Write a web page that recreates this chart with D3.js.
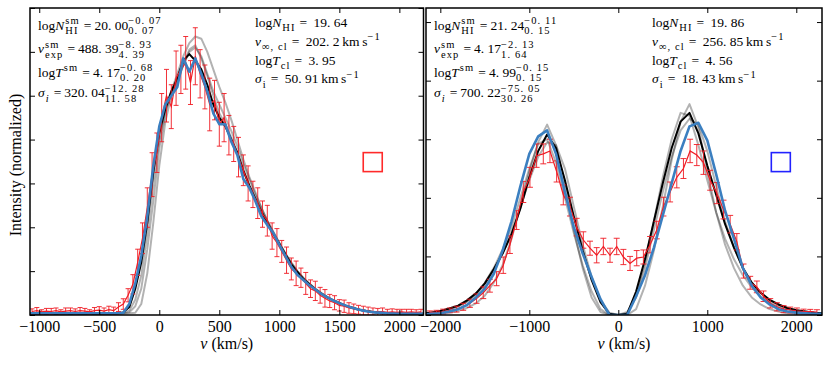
<!DOCTYPE html>
<html>
<head>
<meta charset="utf-8">
<script src="https://cdn.jsdelivr.net/npm/d3@7"></script>
<style>
  body { margin: 0; background: #fff; }
  svg text { white-space: pre; }
</style>
</head>
<body>
<script>
// ---- data: left panel (outflow profile) ----
const leftVel = [
  -1060, -1020, -980, -940, -900, -860, -820, -780, -740, -700,
  -660, -620, -580, -540, -500, -460, -420, -380, -340, -300,
  -260, -220, -180, -140, -100, -60, -20, 20, 60, 100,
  140, 180, 220, 260, 300, 340, 380, 420, 460, 500,
  540, 580, 620, 660, 700, 740, 780, 820, 860, 900,
  940, 980, 1020, 1060, 1100, 1140, 1180, 1220, 1260, 1300,
  1340, 1380, 1420, 1460, 1500, 1540, 1580, 1620, 1660, 1700,
  1740, 1780, 1820, 1860, 1900, 1940, 1980, 2020, 2060, 2100,
  2140, 2180];
const leftRed = [
  0.08, 0.10, 0.07, 0.09, 0.08, 0.10, 0.07, 0.09, 0.10, 0.08,
  0.10, 0.09, 0.07, 0.10, 0.11, 0.09, 0.12, 0.10, 0.18, 0.25,
  0.45, 0.70, 1.20, 1.75, 2.45, 3.20, 3.70, 4.50, 5.00, 4.75,
  5.40, 5.60, 5.75, 5.30, 5.90, 5.50, 5.20, 4.80, 4.90, 4.35,
  4.50, 4.10, 3.90, 3.60, 3.30, 3.00, 2.75, 2.55, 2.30, 2.15,
  1.80, 1.65, 1.45, 1.25, 1.05, 0.95, 0.85, 0.72, 0.60, 0.55,
  0.45, 0.38, 0.32, 0.28, 0.22, 0.20, 0.16, 0.14, 0.12, 0.10,
  0.09, 0.08, 0.07, 0.08, 0.06, 0.07, 0.06, 0.07, 0.06, 0.07,
  0.06, 0.07];
const leftErr = [
  0.06, 0.07, 0.05, 0.06, 0.07, 0.06, 0.05, 0.07, 0.06, 0.06,
  0.07, 0.06, 0.05, 0.07, 0.08, 0.07, 0.08, 0.08, 0.10, 0.12,
  0.15, 0.22, 0.30, 0.35, 0.45, 0.50, 0.45, 0.55, 0.60, 0.50,
  0.62, 0.55, 0.60, 0.50, 0.65, 0.55, 0.50, 0.60, 0.45, 0.50,
  0.55, 0.45, 0.40, 0.45, 0.35, 0.40, 0.30, 0.35, 0.30, 0.35,
  0.30, 0.32, 0.25, 0.30, 0.25, 0.28, 0.22, 0.25, 0.20, 0.22,
  0.18, 0.20, 0.15, 0.16, 0.13, 0.14, 0.12, 0.11, 0.10, 0.10,
  0.09, 0.08, 0.08, 0.08, 0.07, 0.07, 0.07, 0.06, 0.07, 0.06,
  0.06, 0.06];

const leftModelVel = [
  -1100, -500, -400, -350, -300, -250, -200, -150, -100, -50,
  0, 50, 100, 150, 200, 250, 300, 350, 400, 450,
  500, 550, 600, 650, 700, 750, 800, 850, 900, 950,
  1000, 1050, 1100, 1150, 1200, 1250, 1300, 1350, 1400, 1450,
  1500, 1550, 1600, 1650, 1700, 1750, 1800, 1900, 2000, 2200];
const leftBlue = [
  0.04, 0.04, 0.04, 0.04, 0.05, 0.25, 0.72, 1.35, 2.25, 3.40,
  4.30, 4.80, 5.00, 5.20, 5.85, 5.55, 5.85, 5.50, 5.10, 4.60,
  4.35, 4.35, 3.95, 3.65, 3.10, 2.90, 2.60, 2.25, 2.05, 1.87,
  1.60, 1.35, 1.10, 0.92, 0.80, 0.68, 0.58, 0.48, 0.40, 0.33,
  0.27, 0.22, 0.17, 0.13, 0.10, 0.075, 0.06, 0.04, 0.03, 0.03];
const leftBlack = [
  0.03, 0.03, 0.04, 0.04, 0.06, 0.18, 0.60, 1.20, 2.10, 3.25,
  4.15, 4.70, 5.10, 5.40, 5.80, 5.95, 5.80, 5.60, 5.25, 4.80,
  4.50, 4.30, 4.00, 3.70, 3.30, 2.95, 2.65, 2.35, 2.10, 1.85,
  1.62, 1.38, 1.15, 0.98, 0.82, 0.70, 0.58, 0.48, 0.40, 0.33,
  0.27, 0.21, 0.17, 0.13, 0.10, 0.08, 0.06, 0.04, 0.03, 0.03];
const leftGrayA = [
  0.02, 0.02, 0.02, 0.03, 0.04, 0.06, 0.20, 0.60, 1.50, 2.60,
  3.80, 4.60, 5.10, 5.50, 5.90, 6.20, 6.35, 6.30, 6.00, 5.60,
  5.20, 4.85, 4.45, 4.00, 3.55, 3.15, 2.80, 2.45, 2.15, 1.90,
  1.65, 1.40, 1.20, 1.00, 0.85, 0.72, 0.60, 0.50, 0.41, 0.34,
  0.28, 0.22, 0.17, 0.13, 0.10, 0.08, 0.06, 0.04, 0.03, 0.02];
const leftGrayB = [
  0.02, 0.02, 0.02, 0.02, 0.03, 0.04, 0.05, 0.25, 0.95, 2.10,
  3.40, 4.40, 5.00, 5.30, 5.70, 6.00, 6.10, 5.90, 5.50, 5.10,
  4.80, 4.50, 4.20, 3.85, 3.45, 3.10, 2.75, 2.45, 2.15, 1.88,
  1.64, 1.40, 1.18, 1.00, 0.84, 0.71, 0.60, 0.50, 0.41, 0.33,
  0.27, 0.21, 0.17, 0.13, 0.10, 0.08, 0.06, 0.04, 0.03, 0.02];
const leftGrayC = [
  0.03, 0.03, 0.03, 0.04, 0.05, 0.10, 0.35, 0.90, 1.85, 3.00,
  4.00, 4.65, 5.05, 5.35, 5.70, 6.05, 6.15, 5.85, 5.45, 5.00,
  4.60, 4.35, 4.05, 3.70, 3.30, 2.95, 2.65, 2.38, 2.12, 1.86,
  1.63, 1.40, 1.17, 0.99, 0.83, 0.70, 0.59, 0.49, 0.40, 0.33,
  0.27, 0.21, 0.17, 0.13, 0.10, 0.08, 0.06, 0.04, 0.03, 0.03];

// ---- data: right panel (double-peaked profile) ----
const rightVel = [
  -2118, -2043, -1968, -1893, -1818, -1743, -1668, -1593, -1518, -1443,
  -1368, -1293, -1218, -1143, -1068, -993, -918, -843, -768, -693,
  -618, -543, -468, -393, -318, -243, -168, -93, -18, 57,
  132, 207, 282, 357, 432, 507, 582, 657, 732, 807,
  882, 957, 1032, 1107, 1182, 1257, 1332, 1407, 1482, 1557,
  1632, 1707, 1782, 1857, 1932, 2007, 2082, 2157, 2232];
const rightRed = [
  0.04, 0.05, 0.06, 0.08, 0.10, 0.14, 0.20, 0.28, 0.38, 0.50,
  0.62, 0.85, 1.20, 1.62, 2.10, 2.35, 2.72, 2.75, 2.80, 2.45,
  2.05, 1.85, 1.50, 1.28, 1.14, 1.02, 1.17, 1.02, 1.17, 0.99,
  0.88, 0.97, 0.99, 1.20, 1.45, 1.85, 2.10, 2.35, 2.50, 2.80,
  2.73, 2.60, 2.30, 2.08, 1.80, 1.55, 1.25, 0.75, 0.55, 0.48,
  0.32, 0.20, 0.14, 0.10, 0.085, 0.07, 0.06, 0.056, 0.05];
const rightErr = [
  0.03, 0.03, 0.04, 0.04, 0.05, 0.06, 0.07, 0.08, 0.10, 0.11,
  0.12, 0.14, 0.15, 0.16, 0.18, 0.17, 0.20, 0.17, 0.20, 0.18,
  0.17, 0.16, 0.15, 0.14, 0.12, 0.13, 0.14, 0.12, 0.14, 0.13,
  0.12, 0.13, 0.12, 0.14, 0.15, 0.16, 0.17, 0.18, 0.17, 0.20,
  0.18, 0.20, 0.17, 0.18, 0.16, 0.15, 0.14, 0.12, 0.11, 0.10,
  0.09, 0.08, 0.07, 0.06, 0.05, 0.05, 0.04, 0.04, 0.04];

const rightModelVel = [
  -2200, -2100, -2000, -1900, -1800, -1700, -1600, -1500, -1400, -1300,
  -1200, -1100, -1000, -900, -800, -700, -600, -500, -400, -300,
  -200, -100, 0, 100, 200, 300, 400, 500, 600, 700,
  800, 900, 1000, 1100, 1200, 1300, 1400, 1500, 1600, 1700,
  1800, 1900, 2000, 2100, 2200, 2300];
const rightBlue = [
  0.01, 0.02, 0.03, 0.06, 0.10, 0.17, 0.30, 0.45, 0.70, 1.10,
  1.60, 2.20, 2.75, 3.05, 3.15, 2.75, 2.10, 1.50, 1.05, 0.65,
  0.27, 0.00, 0.00, 0.00, 0.32, 0.68, 1.15, 1.70, 2.25, 2.80,
  3.22, 3.28, 2.98, 2.40, 1.78, 1.30, 0.80, 0.50, 0.30, 0.18,
  0.10, 0.06, 0.04, 0.03, 0.02, 0.02];
const rightBlack = [
  0.03, 0.04, 0.07, 0.11, 0.16, 0.25, 0.37, 0.54, 0.78, 1.05,
  1.38, 1.82, 2.35, 2.80, 3.08, 2.85, 2.30, 1.68, 1.10, 0.60,
  0.22, 0.02, 0.00, 0.02, 0.40, 0.95, 1.60, 2.25, 2.85, 3.30,
  3.45, 3.10, 2.55, 2.05, 1.55, 1.15, 0.80, 0.55, 0.38, 0.26,
  0.18, 0.12, 0.08, 0.06, 0.04, 0.03];
const rightGrayA = [
  0.00, 0.01, 0.02, 0.04, 0.07, 0.12, 0.20, 0.33, 0.55, 0.85,
  1.30, 1.85, 2.45, 2.95, 3.25, 2.90, 2.20, 1.45, 0.80, 0.30,
  0.05, 0.00, 0.00, 0.00, 0.10, 0.50, 1.10, 1.85, 2.65, 3.30,
  3.60, 3.20, 2.45, 1.75, 1.20, 0.80, 0.50, 0.30, 0.18, 0.10,
  0.06, 0.03, 0.02, 0.01, 0.00, 0.00];
const rightGrayB = [
  0.03, 0.05, 0.07, 0.10, 0.15, 0.23, 0.35, 0.51, 0.75, 1.05,
  1.40, 1.85, 2.30, 2.70, 2.95, 2.90, 2.50, 1.85, 1.20, 0.65,
  0.25, 0.04, 0.00, 0.05, 0.30, 0.80, 1.45, 2.10, 2.70, 3.15,
  3.35, 3.25, 2.80, 2.20, 1.60, 1.15, 0.80, 0.55, 0.38, 0.26,
  0.18, 0.12, 0.08, 0.06, 0.04, 0.03];
const rightGrayC = [
  0.02, 0.04, 0.06, 0.10, 0.15, 0.23, 0.36, 0.55, 0.80, 1.12,
  1.50, 2.00, 2.50, 2.92, 3.00, 2.60, 2.00, 1.40, 0.85, 0.40,
  0.10, 0.00, 0.00, 0.03, 0.35, 0.90, 1.60, 2.35, 3.00, 3.45,
  3.40, 2.90, 2.30, 1.75, 1.30, 0.95, 0.68, 0.47, 0.32, 0.22,
  0.15, 0.10, 0.07, 0.05, 0.03, 0.02];

// ---- ticks ----
const leftXTicks = [-1000, -500, 0, 500, 1000, 1500, 2000];
const rightXTicks = [-2000, -1000, 0, 1000, 2000];
const leftYTicks = [0, 1, 2, 3, 4, 5, 6, 7];
const rightYTicks = [0, 1, 2, 3, 4, 5];

// ---- annotation text (tokens: r roman, i italic, op operator, sup/sub stacked scripts) ----
const leftFitText = [
  [{r: 'log'}, {i: 'N'}, {sup: 'sm', sub: 'HI'}, {op: '='}, {r: '20. 00'}, {sup: '−0. 07', sub: '0. 07'}],
  [{i: 'v'}, {sup: 'sm', sub: 'exp'}, {op: '='}, {r: '488. 39'}, {sup: '−8. 93', sub: '4. 39'}],
  [{r: 'log'}, {i: 'T'}, {sup: 'sm'}, {op: '='}, {r: '4. 17'}, {sup: '−0. 68', sub: '0. 20'}],
  [{i: 'σ'}, {sub: 'i', si: true}, {op: '='}, {r: '320. 04'}, {sup: '−12. 28', sub: '11. 58'}]
];
const leftTrueText = [
  [{r: 'log'}, {i: 'N'}, {sub: 'HI'}, {op: '='}, {r: ' 19. 64'}],
  [{i: 'v'}, {sub: '∞, cl'}, {op: '='}, {r: ' 202. 2\u2009km\u2009s'}, {sup: '−1'}],
  [{r: 'log'}, {i: 'T'}, {sub: 'cl'}, {op: '='}, {r: ' 3. 95'}],
  [{i: 'σ'}, {sub: 'i'}, {op: '='}, {r: ' 50. 91\u2009km\u2009s'}, {sup: '−1'}]
];
const rightFitText = [
  [{r: 'log'}, {i: 'N'}, {sup: 'sm', sub: 'HI'}, {op: '='}, {r: '21. 24'}, {sup: '−0. 11', sub: '0. 15'}],
  [{i: 'v'}, {sup: 'sm', sub: 'exp'}, {op: '='}, {r: '4. 17'}, {sup: '−2. 13', sub: '1. 64'}],
  [{r: 'log'}, {i: 'T'}, {sup: 'sm'}, {op: '='}, {r: '4. 99'}, {sup: '−0. 15', sub: '0. 15'}],
  [{i: 'σ'}, {sub: 'i', si: true}, {op: '='}, {r: '700. 22'}, {sup: '−75. 05', sub: '30. 26'}]
];
const rightTrueText = [
  [{r: 'log'}, {i: 'N'}, {sub: 'HI'}, {op: '='}, {r: ' 19. 86'}],
  [{i: 'v'}, {sub: '∞, cl'}, {op: '='}, {r: ' 256. 85\u2009km\u2009s'}, {sup: '−1'}],
  [{r: 'log'}, {i: 'T'}, {sub: 'cl'}, {op: '='}, {r: ' 4. 56'}],
  [{i: 'σ'}, {sub: 'i'}, {op: '='}, {r: ' 18. 43\u2009km\u2009s'}, {sup: '−1'}]
];

const FONT = "'Liberation Serif', 'DejaVu Serif', serif";
const BASE = 13.5;
const SCRIPT = 10.5;

const svg = d3.select('body').append('svg')
    .attr('width', 831)
    .attr('height', 365)
    .attr('font-family', FONT);

svg.append('rect').attr('width', 831).attr('height', 365).attr('fill', '#fff');

function put(g, x, y, s, size, italic, script) {
    const t = g.append('text')
        .attr('x', x)
        .attr('y', y)
        .attr('font-family', FONT)
        .attr('font-size', size)
        .attr('font-style', italic ? 'italic' : null)
        .attr('letter-spacing', script ? 1.1 : null)
        .text(s);
    return t.node().getComputedTextLength();
}

function mathLine(g, x, y, tokens) {
    let cx = x;
    tokens.forEach(tk => {
        if (tk.sup !== undefined || tk.sub !== undefined) {
            let w = 0;
            if (tk.sup) w = Math.max(w, put(g, cx, y - 5.5, tk.sup, SCRIPT, false, true));
            if (tk.sub) w = Math.max(w, put(g, cx, y + 4.5, tk.sub, SCRIPT, tk.si, true));
            cx += w + 1;
        } else if (tk.op) {
            cx += 3;
            cx += put(g, cx, y, tk.op, BASE);
            cx += 3;
        } else if (tk.i) {
            cx += put(g, cx, y, tk.i, BASE, true) + 1;
        } else {
            cx += put(g, cx, y, tk.r, BASE);
        }
    });
}

function drawPanel(p) {
    const top = 8, bottom = 315;
    const x = d3.scaleLinear().domain(p.xDomain).range([p.x0, p.x1]);
    const y = d3.scaleLinear().domain([0, p.yMax]).range([bottom, top]);
    const g = svg.append('g');

    svg.append('clipPath').attr('id', p.id)
        .append('rect')
        .attr('x', p.x0).attr('y', top)
        .attr('width', p.x1 - p.x0).attr('height', bottom - top);

    const plot = g.append('g').attr('clip-path', `url(#${p.id})`);
    const line = d3.line().x(d => x(d[0])).y(d => y(d[1]));

    p.grays.forEach(arr => {
        plot.append('path')
            .datum(d3.zip(p.modelVel, arr))
            .attr('d', line)
            .attr('fill', 'none')
            .attr('stroke', '#000')
            .attr('stroke-opacity', 0.3)
            .attr('stroke-width', 2)
            .attr('stroke-linejoin', 'round');
    });

    plot.append('path')
        .datum(d3.zip(p.modelVel, p.black))
        .attr('d', line)
        .attr('fill', 'none')
        .attr('stroke', '#000')
        .attr('stroke-width', 2)
        .attr('stroke-linejoin', 'round');

    // red data with error bars
    const pts = d3.zip(p.vel, p.red, p.err);
    const eb = plot.append('g')
        .attr('stroke', '#f01c24')
        .attr('stroke-width', 1)
        .attr('stroke-opacity', 0.9);
    eb.selectAll('line.bar')
        .data(pts)
        .enter().append('line')
        .attr('class', 'bar')
        .attr('x1', d => x(d[0])).attr('x2', d => x(d[0]))
        .attr('y1', d => y(d[1] - d[2])).attr('y2', d => y(d[1] + d[2]));
    eb.selectAll('line.capt')
        .data(pts)
        .enter().append('line')
        .attr('class', 'capt')
        .attr('x1', d => x(d[0]) - p.cap).attr('x2', d => x(d[0]) + p.cap)
        .attr('y1', d => y(d[1] + d[2])).attr('y2', d => y(d[1] + d[2]));
    eb.selectAll('line.capb')
        .data(pts)
        .enter().append('line')
        .attr('class', 'capb')
        .attr('x1', d => x(d[0]) - p.cap).attr('x2', d => x(d[0]) + p.cap)
        .attr('y1', d => y(d[1] - d[2])).attr('y2', d => y(d[1] - d[2]));
    plot.append('path')
        .datum(d3.zip(p.vel, p.red))
        .attr('d', line)
        .attr('fill', 'none')
        .attr('stroke', '#f01c24')
        .attr('stroke-width', 1.2);

    plot.append('path')
        .datum(d3.zip(p.modelVel, p.blue))
        .attr('d', line)
        .attr('fill', 'none')
        .attr('stroke', '#3b7fc0')
        .attr('stroke-width', 2.6)
        .attr('stroke-linejoin', 'round');

    // axes
    const tickStyle = sel => {
        sel.select('.domain').remove();
        sel.selectAll('.tick line').attr('stroke', '#000').attr('stroke-width', 1);
    };
    g.append('g')
        .attr('transform', `translate(0,${bottom})`)
        .call(d3.axisBottom(x).tickValues(p.xTicks).tickSize(-5).tickPadding(6).tickFormat(d3.format('d')))
        .call(tickStyle)
        .call(a => a.attr('font-family', FONT).attr('font-size', 16))
        .call(a => a.selectAll('.tick text').attr('fill', '#000'));
    g.append('g')
        .attr('transform', `translate(0,${top})`)
        .call(d3.axisTop(x).tickValues(p.xTicks).tickSize(-5).tickFormat(''))
        .call(tickStyle);
    g.append('g')
        .attr('transform', `translate(${p.x0},0)`)
        .call(d3.axisLeft(y).tickValues(p.yTicks).tickSize(-5).tickFormat(''))
        .call(tickStyle);
    g.append('g')
        .attr('transform', `translate(${p.x1},0)`)
        .call(d3.axisRight(y).tickValues(p.yTicks).tickSize(-5).tickFormat(''))
        .call(tickStyle);

    g.append('rect')
        .attr('x', p.x0).attr('y', top)
        .attr('width', p.x1 - p.x0).attr('height', bottom - top)
        .attr('fill', 'none')
        .attr('stroke', '#000')
        .attr('stroke-width', 1.5);

    // marker square
    const sx = p.x0 + p.sqFrac[0] * (p.x1 - p.x0);
    const sy = bottom - p.sqFrac[1] * (bottom - top);
    g.append('rect')
        .attr('x', sx - 9.5).attr('y', sy - 9.5)
        .attr('width', 19).attr('height', 19)
        .attr('fill', 'none')
        .attr('stroke', p.sqColor)
        .attr('stroke-width', 1.6);

    // annotations
    const txt = g.append('g').attr('fill', '#000');
    [29.5, 53, 76.5, 97].forEach((yy, i) => mathLine(txt, p.x0 + 8, yy, p.fitText[i]));
    [26.5, 45.5, 64.5, 83].forEach((yy, i) => mathLine(txt, p.x0 + p.trueOffset, yy, p.trueText[i]));

    // x label
    const xl = g.append('text')
        .attr('x', (p.x0 + p.x1) / 2)
        .attr('y', 349)
        .attr('text-anchor', 'middle')
        .attr('font-family', FONT)
        .attr('font-size', 16);
    xl.append('tspan').attr('font-style', 'italic').text('v');
    xl.append('tspan').text(' (km/s)');
}

drawPanel({
    id: 'clipL', x0: 30, x1: 423.5, xDomain: [-1077, 2201], yMax: 7,
    xTicks: leftXTicks, yTicks: leftYTicks,
    vel: leftVel, red: leftRed, err: leftErr,
    modelVel: leftModelVel, blue: leftBlue, black: leftBlack,
    grays: [leftGrayA, leftGrayB, leftGrayC],
    cap: 2.5, sqFrac: [0.871, 0.498], sqColor: '#ff2a2a',
    fitText: leftFitText, trueText: leftTrueText, trueOffset: 225
});

drawPanel({
    id: 'clipR', x0: 426, x1: 822, xDomain: [-2161, 2289], yMax: 5.24,
    xTicks: rightXTicks, yTicks: rightYTicks,
    vel: rightVel, red: rightRed, err: rightErr,
    modelVel: rightModelVel, blue: rightBlue, black: rightBlack,
    grays: [rightGrayA, rightGrayB, rightGrayC],
    cap: 3, sqFrac: [0.896, 0.498], sqColor: '#2222ff',
    fitText: rightFitText, trueText: rightTrueText, trueOffset: 226
});

svg.append('text')
    .attr('transform', 'translate(21,165) rotate(-90)')
    .attr('text-anchor', 'middle')
    .attr('font-family', FONT)
    .attr('font-size', 16)
    .text('Intensity (normalized)');
</script>
</body>
</html>
